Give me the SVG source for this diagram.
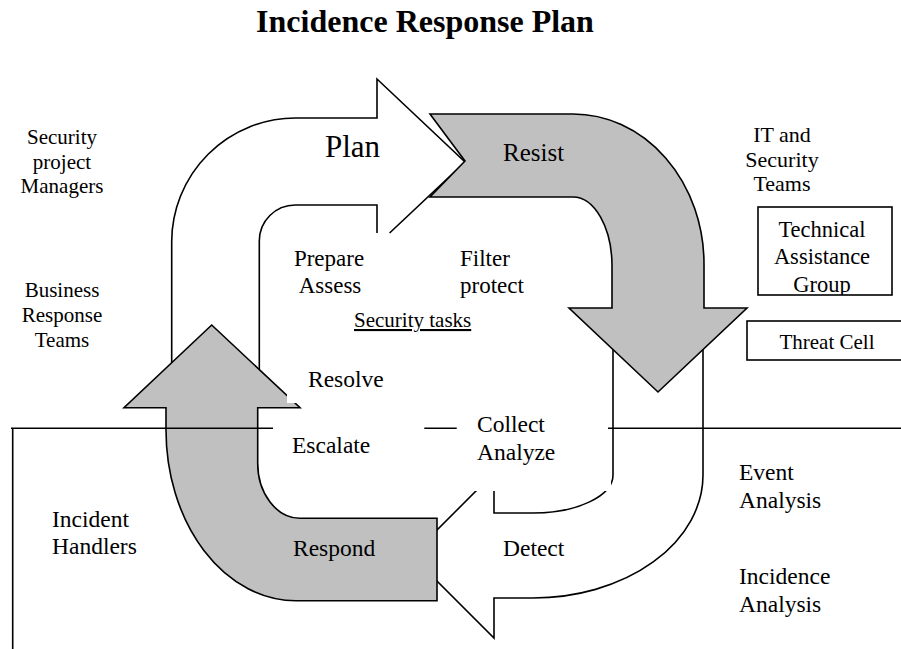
<svg xmlns="http://www.w3.org/2000/svg" width="901" height="649" viewBox="0 0 901 649">
  <style>
    text { font-family: "Liberation Serif", "Times New Roman", serif; fill: #000; }
    .title { font-size: 32px; font-weight: bold; text-anchor: middle; }
    .lbl { font-size: 23.5px; }
    .sm { font-size: 21px; }
    .mid { text-anchor: middle; }
    .white { fill: #fff; stroke: #000; stroke-width: 1.6; stroke-linejoin: miter; }
    .gray { fill: #c0c0c0; stroke: #000; stroke-width: 1.6; stroke-linejoin: miter; }
    .edge { fill: none; stroke: #000; stroke-width: 1.6; }
    .mask { fill: #fff; stroke: none; }
    .box { fill: #fff; stroke: #000; stroke-width: 1.6; }
  </style>
  <defs>
    <clipPath id="tagClip"><rect x="758" y="207" width="134" height="88"/></clipPath>
  </defs>

  <rect width="901" height="649" fill="#fff"/>

  <text class="title" x="425" y="32">Incidence Response Plan</text>

  <!-- Plan: white bent arrow, lower edges end at the text area -->
  <g id="plan">
    <path class="mask" d="M171.7,395 V241.5 A124,124 0 0 1 295.5,118 H377 V79 L465,162 L389.6,233 H377 V205 H295.3 A36,36 0 0 0 259.3,241 V395 Z"/>
    <path class="edge" d="M171.7,395 V241.5 A124,124 0 0 1 295.5,118 H377 V79 L465,162 L389.6,233"/>
    <path class="edge" d="M259.3,395 V241 A36,36 0 0 1 295.3,205 H377 V233"/>
    <text x="325" y="157" style="font-size:31px">Plan</text>
  </g>

  <!-- Detect: white bent arrow pointing left -->
  <g id="detect">
    <path class="white" d="M703,330 V475 A170,123 0 0 1 533,598 H494 V638 L411.5,555.5 L494,473 V513 H533 A80,38 0 0 0 613,475 V330 Z"/>
    <text class="lbl" x="503" y="556">Detect</text>
  </g>

  <!-- Resist: gray bent arrow pointing down -->
  <g id="resist">
    <path class="gray" d="M430,114 H573 A131,150 0 0 1 704,264 V308 H747 L658,392 L569,308 H612 V266 A39,69 0 0 0 573,197 H430 L465,161 Z"/>
    <text x="503" y="161" style="font-size:25px">Resist</text>
  </g>

  <!-- Respond: gray bent arrow pointing up -->
  <g id="respond">
    <path class="gray" d="M437,518.3 H300 A42.3,55 0 0 1 257.7,463 V407.7 H300 L211.7,325 L124,407.7 H166 V430 A130,170.7 0 0 0 296,600.7 H437 Z"/>
    <text class="lbl" x="293" y="556">Respond</text>
  </g>

  <!-- text areas laid over the arrows -->
  <rect class="mask" x="287" y="360" width="110" height="43"/>
  <rect class="mask" x="457" y="405" width="154" height="86"/>

  <!-- divider lines -->
  <g id="connectors">
    <path class="edge" d="M11,428.3 H273 M424.3,428.3 H456.7 M608,428.3 H901 M12.7,428.3 V649"/>
  </g>

  <g id="security-managers">
    <text class="sm mid" x="62" y="144">Security</text>
    <text class="sm mid" x="62" y="169">project</text>
    <text class="sm mid" x="62" y="193">Managers</text>
  </g>
  <g id="business-teams">
    <text class="sm mid" x="62" y="297">Business</text>
    <text class="sm mid" x="62" y="322">Response</text>
    <text class="sm mid" x="62" y="347">Teams</text>
  </g>
  <g id="it-security">
    <text class="mid" x="782" y="142" style="font-size:22px">IT and</text>
    <text class="mid" x="782" y="167" style="font-size:22px">Security</text>
    <text class="mid" x="782" y="191" style="font-size:22px">Teams</text>
  </g>
  <g id="technical-assistance">
    <g clip-path="url(#tagClip)">
      <text class="mid" x="822" y="237" style="font-size:22.5px">Technical</text>
      <text class="mid" x="822" y="264" style="font-size:22.5px">Assistance</text>
      <text class="mid" x="822" y="292" style="font-size:22.5px">Group</text>
    </g>
    <rect x="758" y="207" width="134" height="88" fill="none" stroke="#000" stroke-width="1.6"/>
  </g>
  <g id="threat-cell">
    <rect class="box" x="747" y="321" width="160" height="39"/>
    <text class="sm mid" x="827" y="349">Threat Cell</text>
  </g>
  <g id="prepare">
    <text class="lbl mid" x="329" y="266" style="font-size:23px">Prepare</text>
    <text class="lbl mid" x="330" y="293" style="font-size:23px">Assess</text>
  </g>
  <g id="filter">
    <text class="lbl" x="460" y="266" style="font-size:23px">Filter</text>
    <text class="lbl" x="460" y="293" style="font-size:23px">protect</text>
  </g>
  <g id="security-tasks">
    <text class="sm" x="354" y="327" text-decoration="underline">Security tasks</text>
  </g>
  <g id="resolve"><text class="lbl" x="308" y="387">Resolve</text></g>
  <g id="escalate"><text class="lbl" x="292" y="453">Escalate</text></g>
  <g id="collect">
    <text class="lbl" x="477" y="432">Collect</text>
    <text class="lbl" x="477" y="460">Analyze</text>
  </g>
  <g id="event-analysis">
    <text class="lbl" x="739" y="480">Event</text>
    <text class="lbl" x="739" y="508">Analysis</text>
  </g>
  <g id="incident-handlers">
    <text class="lbl" x="52" y="527">Incident</text>
    <text class="lbl" x="52" y="554">Handlers</text>
  </g>
  <g id="incidence-analysis">
    <text class="lbl" x="739" y="584">Incidence</text>
    <text class="lbl" x="739" y="612">Analysis</text>
  </g>
</svg>
